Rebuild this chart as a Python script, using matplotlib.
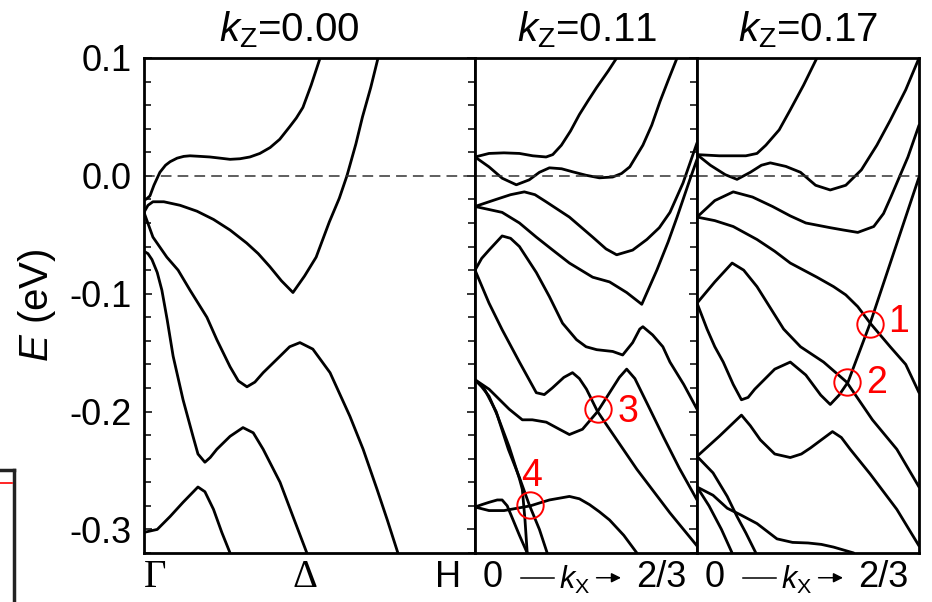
import matplotlib
matplotlib.use("Agg")
import matplotlib.pyplot as plt
from matplotlib.lines import Line2D
from matplotlib.ticker import MultipleLocator, FuncFormatter

plt.rcParams['font.family'] = ['Liberation Sans', 'DejaVu Sans']
plt.rcParams['mathtext.fontset'] = 'custom'
plt.rcParams['mathtext.rm'] = 'Liberation Sans'
plt.rcParams['mathtext.it'] = 'Liberation Sans:italic'

# band energies (eV) along each path; k is the fraction of the path
kz_labels = ["0.00", "0.11", "0.17"]

# kz = 0.00, Gamma -> Delta -> H
bands_kz000 = [
    ([0, 0.010, 0.018, 0.030, 0.048, 0.065, 0.079, 0.100, 0.120, 0.139, 0.170, 0.199, 0.230, 0.260,
      0.290, 0.320, 0.350, 0.381, 0.410, 0.441, 0.460, 0.480, 0.505, 0.532],
     [-0.021, -0.019, -0.017, -0.008, 0.003, 0.009, 0.012, 0.015, 0.0165, 0.017, 0.0165, 0.016, 0.015,
      0.014, 0.0145, 0.016, 0.019, 0.024, 0.031, 0.042, 0.049, 0.058, 0.077, 0.100]),
    ([0, 0.012, 0.027, 0.060, 0.109, 0.160, 0.210, 0.260, 0.310, 0.345, 0.380, 0.415, 0.450, 0.485,
      0.520, 0.560, 0.590, 0.613, 0.640, 0.660, 0.685, 0.707],
     [-0.031, -0.025, -0.022, -0.022, -0.025, -0.030, -0.037, -0.046, -0.057, -0.066, -0.077, -0.089,
      -0.099, -0.085, -0.069, -0.039, -0.019, 0.0, 0.027, 0.050, 0.075, 0.100]),
    ([0, 0.027, 0.069, 0.103, 0.139, 0.190, 0.220, 0.260, 0.285, 0.311, 0.335, 0.360, 0.411, 0.440,
      0.471, 0.510, 0.562, 0.622, 0.662, 0.704, 0.735, 0.767],
     [-0.031, -0.052, -0.069, -0.080, -0.097, -0.120, -0.139, -0.162, -0.174, -0.179, -0.175, -0.167,
      -0.153, -0.145, -0.1415, -0.147, -0.167, -0.204, -0.232, -0.266, -0.292, -0.320]),
    ([0, 0.012, 0.024, 0.040, 0.054, 0.070, 0.088, 0.118, 0.148, 0.163, 0.184, 0.200, 0.220, 0.260,
      0.299, 0.330, 0.360, 0.411, 0.450, 0.492],
     [-0.064, -0.066, -0.071, -0.082, -0.097, -0.122, -0.153, -0.190, -0.221, -0.236, -0.243, -0.239,
      -0.232, -0.221, -0.2136, -0.218, -0.232, -0.260, -0.289, -0.320]),
    ([0, 0.040, 0.079, 0.118, 0.163, 0.184, 0.210, 0.235, 0.260],
     [-0.3025, -0.300, -0.289, -0.277, -0.264, -0.268, -0.283, -0.3025, -0.320]),
]

# kz = 0.11, kx from 0 to 2/3
bands_kz011 = [
    ([0, 0.063, 0.130, 0.200, 0.260, 0.320, 0.350, 0.389, 0.430, 0.470, 0.510, 0.548, 0.600, 0.638],
     [0.016, 0.019, 0.0195, 0.019, 0.017, 0.016, 0.018, 0.026, 0.038, 0.052, 0.064, 0.075, 0.089, 0.100]),
    ([0, 0.063, 0.122, 0.186, 0.244, 0.290, 0.335, 0.390, 0.440, 0.500, 0.560, 0.620, 0.660, 0.697,
      0.756, 0.796, 0.833, 0.870, 0.910],
     [0.016, 0.0076, -0.002, -0.0076, -0.0034, 0.003, 0.0068, 0.006, 0.0034, 0.0005, -0.0017, -0.001,
      0.002, 0.0076, 0.026, 0.043, 0.063, 0.081, 0.100]),
    ([0, 0.095, 0.160, 0.222, 0.270, 0.320, 0.425, 0.530, 0.590, 0.638, 0.710, 0.774, 0.830, 0.878,
      0.937, 1.000],
     [-0.026, -0.020, -0.016, -0.0136, -0.016, -0.022, -0.035, -0.052, -0.062, -0.067, -0.063, -0.054,
      -0.044, -0.031, -0.006, 0.028]),
    ([0, 0.122, 0.200, 0.276, 0.350, 0.425, 0.530, 0.606, 0.683, 0.751, 0.819, 0.870, 0.910, 0.968,
      1.000],
     [-0.026, -0.031, -0.040, -0.052, -0.063, -0.074, -0.086, -0.090, -0.099, -0.109, -0.080, -0.056,
      -0.035, -0.003, 0.014]),
    ([0, 0.030, 0.063, 0.122, 0.160, 0.200, 0.276, 0.335, 0.394, 0.457, 0.500, 0.548, 0.620, 0.665,
      0.710, 0.742, 0.756, 0.800, 0.846, 0.878, 0.940, 1.000],
     [-0.080, -0.070, -0.063, -0.051, -0.053, -0.060, -0.082, -0.1025, -0.125, -0.139, -0.145, -0.1475,
      -0.149, -0.152, -0.1415, -0.130, -0.128, -0.135, -0.145, -0.158, -0.177, -0.198]),
    ([0, 0.063, 0.122, 0.200, 0.276, 0.312, 0.348, 0.400, 0.439, 0.470, 0.502, 0.552, 0.606, 0.729,
      0.878, 1.000],
     [-0.080, -0.108, -0.1305, -0.158, -0.184, -0.1856, -0.180, -0.171, -0.167, -0.172, -0.181, -0.200,
      -0.215, -0.249, -0.286, -0.314]),
    ([0, 0.063, 0.154, 0.213, 0.258, 0.321, 0.380, 0.425, 0.484, 0.552, 0.606, 0.650, 0.683, 0.720,
      0.780, 0.850, 0.920, 1.000],
     [-0.173, -0.181, -0.198, -0.207, -0.207, -0.209, -0.215, -0.2195, -0.215, -0.200, -0.184, -0.171,
      -0.164, -0.172, -0.195, -0.222, -0.248, -0.275]),
    ([0, 0.030, 0.063, 0.100, 0.154, 0.200, 0.213, 0.225, 0.235],
     [-0.173, -0.179, -0.187, -0.203, -0.230, -0.257, -0.266, -0.292, -0.320]),
    ([0, 0.040, 0.095, 0.150, 0.200, 0.244, 0.290, 0.325],
     [-0.173, -0.180, -0.200, -0.232, -0.256, -0.279, -0.300, -0.320]),
    ([0, 0.030, 0.063, 0.100, 0.122, 0.145, 0.167, 0.200, 0.235],
     [-0.281, -0.279, -0.277, -0.275, -0.275, -0.280, -0.290, -0.305, -0.320]),
    ([0, 0.063, 0.131, 0.190, 0.249, 0.300, 0.335, 0.380, 0.425, 0.470, 0.516, 0.560, 0.606, 0.670,
      0.729],
     [-0.281, -0.284, -0.284, -0.282, -0.280, -0.277, -0.275, -0.2735, -0.272, -0.274, -0.279, -0.285,
      -0.292, -0.305, -0.320]),
]

# kz = 0.17, kx from 0 to 2/3
bands_kz017 = [
    ([0, 0.100, 0.220, 0.270, 0.310, 0.370, 0.420, 0.480, 0.540],
     [0.018, 0.017, 0.017, 0.019, 0.026, 0.039, 0.056, 0.077, 0.100]),
    ([0, 0.060, 0.127, 0.180, 0.240, 0.290, 0.330, 0.400, 0.466, 0.534, 0.600, 0.670, 0.740, 0.810,
      0.870, 0.940, 1.000],
     [0.018, 0.009, 0.001, -0.003, 0.003, 0.009, 0.011, 0.008, 0.003, -0.008, -0.012, -0.008, 0.005,
      0.026, 0.047, 0.073, 0.100]),
    ([0, 0.080, 0.163, 0.250, 0.340, 0.420, 0.490, 0.600, 0.660, 0.724, 0.796, 0.840, 0.873, 0.950,
      1.000],
     [-0.035, -0.021, -0.0136, -0.018, -0.026, -0.034, -0.040, -0.044, -0.046, -0.048, -0.043, -0.032,
      -0.018, 0.016, 0.043]),
    ([0, 0.080, 0.163, 0.270, 0.350, 0.420, 0.540, 0.615, 0.670, 0.724, 0.780, 0.870, 0.940, 1.000],
     [-0.035, -0.038, -0.043, -0.054, -0.064, -0.074, -0.086, -0.094, -0.101, -0.111, -0.125, -0.145,
      -0.160, -0.184]),
    ([0, 0.045, 0.080, 0.118, 0.163, 0.200, 0.230, 0.260, 0.350, 0.420, 0.490, 0.557, 0.600, 0.640,
      0.680, 0.780, 0.890, 1.000],
     [-0.108, -0.130, -0.145, -0.158, -0.177, -0.190, -0.188, -0.181, -0.164, -0.158, -0.169, -0.186,
      -0.194, -0.186, -0.175, -0.125, -0.063, -0.001]),
    ([0, 0.080, 0.158, 0.210, 0.270, 0.330, 0.390, 0.466, 0.570, 0.674, 0.790, 0.900, 1.000],
     [-0.108, -0.090, -0.074, -0.080, -0.094, -0.112, -0.130, -0.145, -0.158, -0.175, -0.207, -0.232,
      -0.264]),
    ([0, 0.100, 0.200, 0.240, 0.285, 0.350, 0.420, 0.470, 0.510, 0.610, 0.650, 0.690, 0.780, 0.900,
      1.000],
     [-0.238, -0.221, -0.203, -0.212, -0.224, -0.236, -0.239, -0.236, -0.231, -0.217, -0.222, -0.232,
      -0.253, -0.283, -0.314]),
    ([0, 0.072, 0.136, 0.180, 0.220, 0.265],
     [-0.238, -0.252, -0.272, -0.289, -0.303, -0.320]),
    ([0, 0.054, 0.110, 0.158],
     [-0.264, -0.280, -0.300, -0.320]),
    ([0, 0.072, 0.136, 0.200, 0.270, 0.360, 0.430, 0.500, 0.560, 0.615, 0.706],
     [-0.264, -0.271, -0.282, -0.288, -0.295, -0.308, -0.311, -0.3115, -0.3127, -0.315, -0.320]),
]

# band crossings: (panel, k, E, label)
crossings = [
    (2, 0.778, -0.1254, "1"),
    (2, 0.674, -0.1746, "2"),
    (1, 0.552, -0.198, "3"),
    (1, 0.249, -0.2797, "4"),
]

fig = plt.figure(figsize=(9.32, 6.02), dpi=100)
bottom, height = 0.0814, 0.8223
ax0 = fig.add_axes([0.1545, bottom, 0.3552, height])
ax1 = fig.add_axes([0.5097, bottom, 0.2382, height])
ax2 = fig.add_axes([0.7479, bottom, 0.2382, height])
axes = [ax0, ax1, ax2]

for ax, bands in zip(axes, [bands_kz000, bands_kz011, bands_kz017]):
    for k, e in bands:
        ax.plot(k, e, color='black', lw=2.0, solid_joinstyle='round', solid_capstyle='round')
    ax.axhline(0, color='#333333', lw=1.1, dashes=(7, 4))
    ax.set_xlim(0, 1)
    ax.set_ylim(-0.32, 0.1)
    ax.set_xticks([])
    ax.yaxis.set_major_locator(MultipleLocator(0.1))
    ax.yaxis.set_minor_locator(MultipleLocator(0.02))
    for s in ax.spines.values():
        s.set_linewidth(2.0)

ax0.tick_params(axis='y', which='both', direction='in', left=True, right=True,
                labelsize=26, width=1.1, pad=9)
ax0.tick_params(axis='y', which='major', length=6)
ax0.tick_params(axis='y', which='minor', length=5)
ax0.yaxis.set_major_formatter(FuncFormatter(lambda v, p: f"{v:.1f}".replace("-0.0", "0.0")))
ax0.set_ylabel("$E$ (eV)", fontsize=29, labelpad=8)

ax1.tick_params(axis='y', which='both', direction='in', left=False, right=True,
                labelleft=False, width=1.1)
ax1.tick_params(axis='y', which='major', length=6)
ax1.tick_params(axis='y', which='minor', length=5)
ax2.tick_params(axis='y', which='both', left=False, right=False, labelleft=False)

# panel titles
title_x = [0.311, 0.630, 0.867]
for x, lab in zip(title_x, kz_labels):
    fig.text(x, 0.950, "$k_\\mathrm{Z}$=" + lab, fontsize=29, ha='center', va='center')

# high-symmetry labels of the first path
ax0.text(0.033, -0.05, "Γ", transform=ax0.transAxes, fontsize=28, ha='center', va='center',
         family='Liberation Serif')
ax0.text(0.486, -0.05, "Δ", transform=ax0.transAxes, fontsize=28, ha='center', va='center',
         family='Liberation Serif')
ax0.text(0.918, -0.05, "H", transform=ax0.transAxes, fontsize=26, ha='center', va='center')

# k_x path labels
for ax in (ax1, ax2):
    ax.text(0.077, -0.05, "0", transform=ax.transAxes, fontsize=26, ha='center', va='center')
    ax.text(0.84, -0.05, "2/3", transform=ax.transAxes, fontsize=26, ha='center', va='center')
    ax.text(0.45, -0.055, "$k_\\mathrm{X}$", transform=ax.transAxes, fontsize=22, ha='center', va='center')
    ax.add_line(Line2D([0.205, 0.355], [-0.05, -0.05], transform=ax.transAxes, color='black',
                       lw=1.1, clip_on=False))
    ax.annotate("", xy=(0.67, -0.05), xytext=(0.535, -0.05), xycoords='axes fraction',
                arrowprops=dict(arrowstyle='-|>', color='black', lw=1.1, mutation_scale=14),
                annotation_clip=False)

# crossings marked with red circles
label_offsets = {"1": (0.13, 0.001), "2": (0.135, -0.001), "3": (0.135, -0.002), "4": (0.005, 0.025)}
for panel, k, e, lab in crossings:
    ax = axes[panel]
    ax.plot([k], [e], marker='o', ms=19, mfc='none', mec='red', mew=1.4)
    dx, dy = label_offsets[lab]
    ax.text(k + dx, e + dy, lab, color='red', fontsize=27, ha='center', va='center')

# edge of the neighbouring panel, cut off at the left border
fig.add_artist(Line2D([0, 14 / 932], [1 - 470 / 602, 1 - 470 / 602], color='#222222', lw=2.5))
fig.add_artist(Line2D([14 / 932, 14 / 932], [1 - 470 / 602, 0], color='#222222', lw=2.5))
fig.add_artist(Line2D([0, 12 / 932], [1 - 483 / 602, 1 - 483 / 602], color='red', lw=1.2))

fig.savefig("out.png", dpi=100)
